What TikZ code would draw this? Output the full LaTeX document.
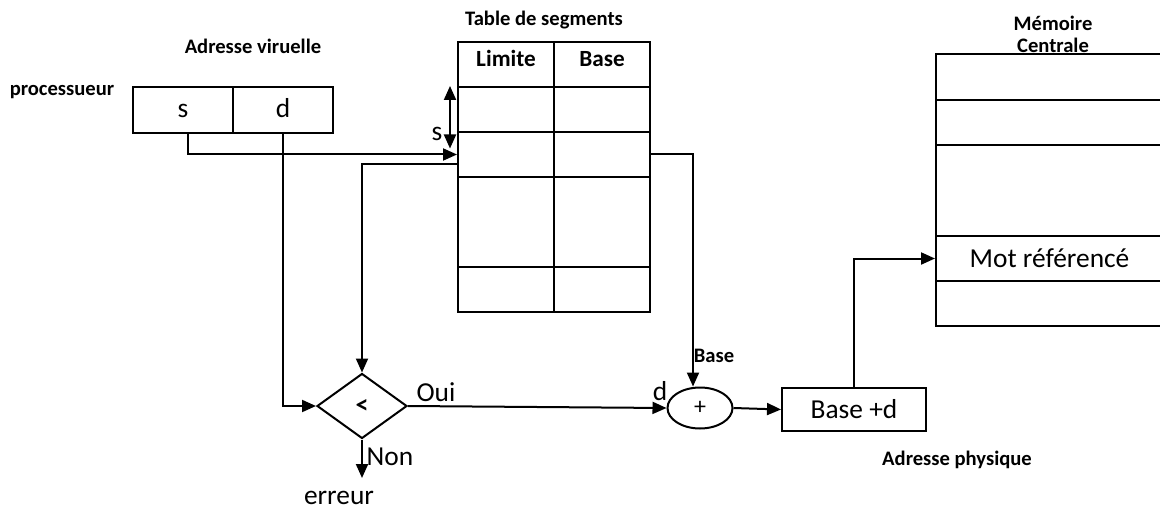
\documentclass[tikz,border=0pt]{standalone}
\usepackage{fontspec}
\setmainfont{Carlito}
\usetikzlibrary{arrows.meta,shapes.geometric}

\begin{document}
\begin{tikzpicture}[x=0.5pt, y=-0.5pt,
    cell/.style={draw, line width=1pt, minimum width=48pt, minimum height=22.5pt, inner sep=0pt},
    head/.style={cell, text depth=6pt, font=\fontsize{11.6}{13}\selectfont\bfseries},
    memcell/.style={draw, line width=1pt, minimum width=113.5pt, minimum height=22.5pt, inner sep=0pt, anchor=north west, font=\fontsize{13.7}{16}\selectfont},
    lbl/.style={font=\fontsize{10.3}{11}\selectfont\bfseries},
    txt/.style={font=\fontsize{13.7}{16}\selectfont},
    conn/.style={line width=1pt, -{Triangle[length=7pt,width=6pt]}},
]
    \clip (0,0) rectangle (1160,513);

    % Adresse virtuelle
    \node[lbl] (proc) at (62,92) {processueur};
    \node[lbl] (vaddr) at (253,46) {Adresse viruelle};
    \node[cell, txt, minimum width=50pt, minimum height=23pt, text height=9pt, text depth=1pt] (s) at (183,110) {s};
    \node[cell, txt, minimum width=50pt, minimum height=23pt, text height=9pt, text depth=1pt] (d) at (283,110) {d};

    % Table de segments
    \node[lbl] (tbl) at (544,20) {Table de segments};
    \node[head] (lim0) at (506,64.5) {Limite};
    \node[head] (base0) at (602,64.5) {Base};
    \node[cell] (lim1) at (506,109.5) {};
    \node[cell] (base1) at (602,109.5) {};
    \node[cell] (lim2) at (506,154.5) {};
    \node[cell] (base2) at (602,154.5) {};
    \node[cell, minimum height=45pt] (lim3) at (506,222) {};
    \node[cell, minimum height=45pt] (base3) at (602,222) {};
    \node[cell] (lim4) at (506,289.5) {};
    \node[cell] (base4) at (602,289.5) {};

    % deplacement s dans la table
    \coordinate (stop) at ([xshift=-3.5pt]lim1.north west);
    \coordinate (sbot) at ([xshift=-3.5pt,yshift=3pt]lim2.west);
    \draw[line width=1pt, {Triangle[length=7pt,width=6pt]}-{Triangle[length=7pt,width=6pt]}] (stop) -- (sbot);
    \node[txt] (slbl) at (437,134) {s};

    % Comparaison
    \node[diamond, draw, line width=1pt, minimum width=45pt, minimum height=32.5pt, inner sep=0pt, font=\fontsize{13}{14}\selectfont\bfseries] (cmp) at (362,406) {<};
    \node[txt] (oui) at (436,392) {Oui};
    \node[txt] (non) at (390,457) {Non};
    \coordinate (errtip) at (362,478);
    \node[txt] (err) at (339,498) {erreur};

    % Addition
    \node[ellipse, draw, line width=1pt, minimum width=32.5pt, minimum height=20.5pt, inner sep=0pt, font=\fontsize{12}{14}\selectfont] (plus) at (700,408) {+};
    \node[txt] (dlbl) at (660,391) {d};
    \node[lbl] (baselbl) at (714,356) {Base};
    \node[cell, txt, minimum width=72pt, minimum height=21.5pt] (phys) at (854,409.5) {Base +d};
    \node[lbl] (paddr) at (957,460) {Adresse physique};

    % Memoire centrale
    \node[lbl, align=center] (mem) at (1053,34) {Mémoire\\Centrale};
    \node[memcell, minimum height=23pt] (m1) at (935,53) {};
    \node[memcell] (m2) at (935,99) {};
    \node[memcell, minimum height=45.5pt] (m3) at (935,144) {};
    \node[memcell] (mot) at (935,235) {Mot référencé};
    \node[memcell] (m5) at (935,280) {};

    % Connecteurs
    \draw[conn] ([xshift=2.5pt]s.south) |- (lim2.west);
    \draw[conn] (d.south) |- (cmp.west);
    \draw[conn] ([yshift=-5pt]lim2.west) -| (cmp.north);
    \draw[conn] (cmp.east) -- (plus.west);
    \draw[conn] (cmp.south) -- (errtip);
    \draw[conn] (base2.east) -| ([xshift=-3.5pt]plus.north);
    \draw[conn] (plus.east) -- (phys.west);
    \draw[conn] (phys.north) |- (mot.west);
\end{tikzpicture}
\end{document}
